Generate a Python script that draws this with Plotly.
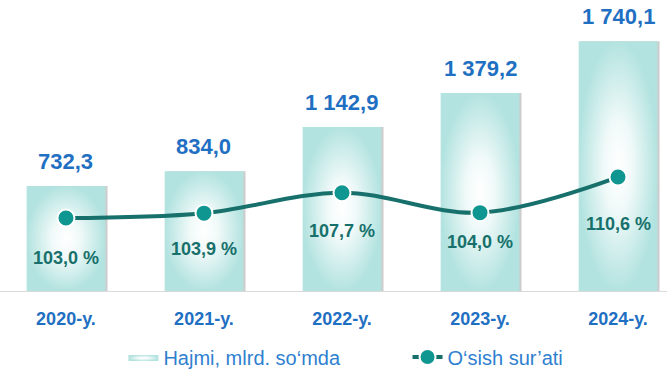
import plotly.graph_objects as go

years = ["2020-y.", "2021-y.", "2022-y.", "2023-y.", "2024-y."]
volume = [732.3, 834.0, 1142.9, 1379.2, 1740.1]
growth = [103.0, 103.9, 107.7, 104.0, 110.6]
volume_labels = ["732,3", "834,0", "1 142,9", "1 379,2", "1 740,1"]
growth_labels = ["103,0 %", "103,9 %", "107,7 %", "104,0 %", "110,6 %"]

# style / layout settings
pct_label_dy = [-40, -36, -38, -29, -47]
Y1_MIN, Y1_MAX = 0, 2028
Y2_MIN, Y2_MAX = 89.46, 143.45
BAR_W = 0.57
BLUE = "#1f6fc2"
TEAL_DARK = "#17706b"
TEAL = "#0f9690"
FONT = "Liberation Sans, Arial, sans-serif"

xs = list(range(len(years)))
fig = go.Figure()

# soft shadow behind bars
fig.add_trace(go.Bar(
    x=[x + 0.016 for x in xs], y=volume, base=Y1_MIN,
    width=BAR_W, marker=dict(color="rgba(90,90,90,0.30)", line=dict(width=0)),
    showlegend=False, hoverinfo="skip"))

# gradient bars
for i, (x, v) in enumerate(zip(xs, volume)):
    fig.add_trace(go.Scatter(
        x=[x - BAR_W / 2, x + BAR_W / 2, x + BAR_W / 2, x - BAR_W / 2, x - BAR_W / 2],
        y=[Y1_MIN, Y1_MIN, v, v, Y1_MIN],
        mode="lines", fill="toself", line=dict(width=0, color="#b5e4e1"),
        fillgradient=dict(type="radial",
                          colorscale=[[0, "#ffffff"], [0.35, "#f1faf9"], [1, "#b3e3e0"]]),
        name="Hajmi, mlrd. so‘mda", showlegend=(i == 0), legendgroup="vol",
        legend="legend",
        hovertemplate=volume_labels[i] + "<extra></extra>"))

fig.add_trace(go.Scatter(
    x=xs, y=growth, yaxis="y2", mode="lines+markers",
    line=dict(color=TEAL_DARK, width=4, shape="spline", smoothing=1.0),
    marker=dict(size=17, color=TEAL, line=dict(color="white", width=2)),
    name="O‘sish sur’ati", legend="legend2"))

annotations = []
for x, v, t in zip(xs, volume, volume_labels):
    annotations.append(dict(x=x, y=v, xref="x", yref="y", text="<b>%s</b>" % t,
                            showarrow=False, yanchor="bottom", yshift=10,
                            font=dict(family=FONT, size=22, color=BLUE)))
for x, g, t, dy in zip(xs, growth, growth_labels, pct_label_dy):
    annotations.append(dict(x=x, y=g, xref="x", yref="y2", text="<b>%s</b>" % t,
                            showarrow=False, yanchor="middle", yshift=dy,
                            font=dict(family=FONT, size=18, color=TEAL_DARK)))

legend_font = dict(family=FONT, size=20, color="#2f7fd0")
fig.update_layout(
    width=667, height=371,
    margin=dict(l=0, r=0, t=0, b=80, autoexpand=False),
    paper_bgcolor="white", plot_bgcolor="white",
    barmode="overlay",
    showlegend=True,
    legend=dict(orientation="h", x=0.185, xanchor="left", y=-0.227, yanchor="middle",
                font=legend_font, itemwidth=30, bgcolor="rgba(0,0,0,0)"),
    legend2=dict(orientation="h", x=0.611, xanchor="left", y=-0.227, yanchor="middle",
                 font=legend_font, itemwidth=30, bgcolor="rgba(0,0,0,0)"),
    xaxis=dict(range=[-0.478, 4.355], tickvals=xs,
               ticktext=["<b>%s</b>" % y for y in years],
               tickfont=dict(family=FONT, size=18, color=BLUE),
               ticklabelstandoff=11,
               showgrid=False, zeroline=False, showline=True,
               linecolor="#d9d9d9", linewidth=1, ticks="", ticklen=0),
    yaxis=dict(range=[Y1_MIN, Y1_MAX], visible=False, showgrid=False, zeroline=False),
    yaxis2=dict(range=[Y2_MIN, Y2_MAX], overlaying="y", side="right",
                visible=False, showgrid=False, zeroline=False),
    annotations=annotations,
)

fig.write_html("out.html")
